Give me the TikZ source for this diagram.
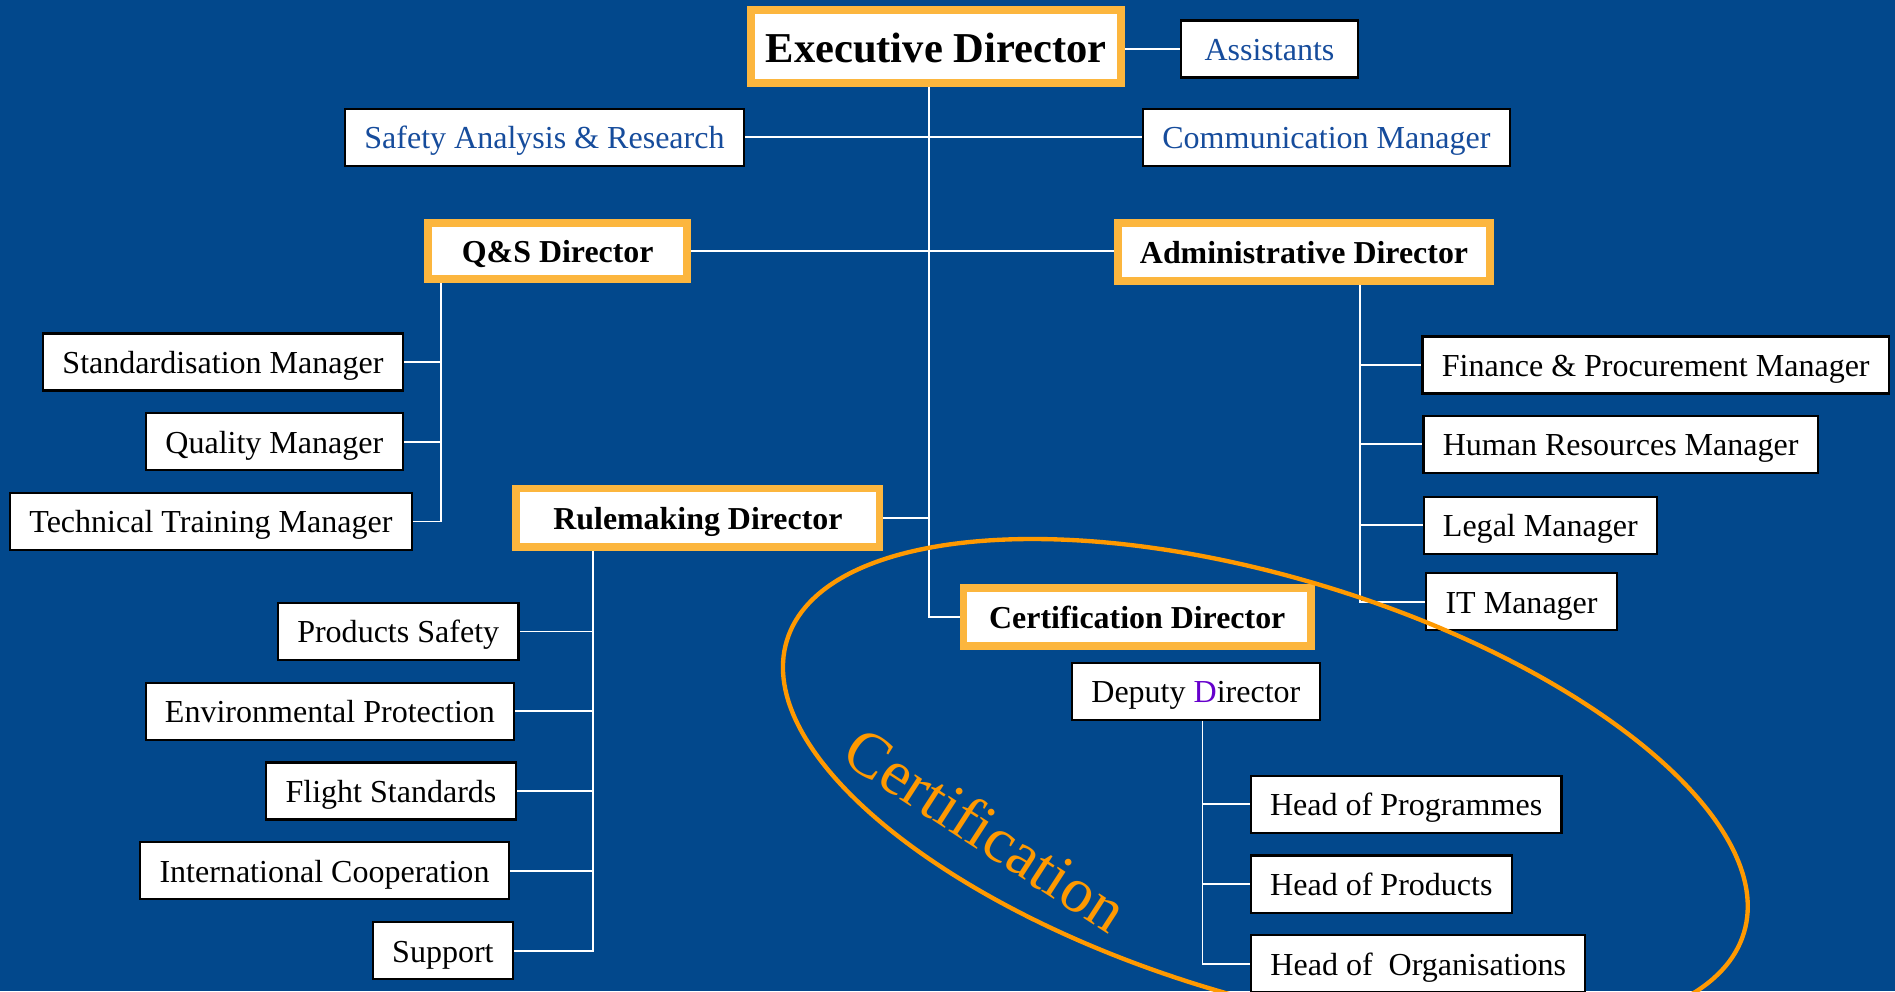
\documentclass[tikz,border=0pt]{standalone}
\usepackage{fontspec}
\setmainfont{Liberation Serif}

\definecolor{bgblue}{RGB}{2,72,140}
\definecolor{boxorange}{RGB}{252,182,62}
\definecolor{ringorange}{RGB}{255,153,0}
\definecolor{textblue}{RGB}{22,76,156}
\definecolor{dpurple}{RGB}{102,0,204}

\begin{document}
\begin{tikzpicture}[x=0.5pt, y=-0.5pt,
    mgr/.style={draw=black, fill=white, line width=0.9pt, inner xsep=8pt, inner ysep=1pt,
        minimum height=23.6pt, text height=11pt, text depth=1.5pt,
        font=\fontsize{13.25}{16}\selectfont},
    staff/.style={mgr, text=textblue},
    dir/.style={draw=boxorange, fill=white, line width=3.25pt, inner xsep=6pt, inner ysep=1pt,
        minimum height=24.25pt, text height=11pt, text depth=1.5pt,
        font=\fontsize{13.2}{16}\selectfont\bfseries},
    link/.style={draw=white, line width=0.8pt}]

    % 背景
    \useasboundingbox (0,0) rectangle (1568,820);
    \clip (0,0) rectangle (1568,820);
    \fill[bgblue] (0,0) rectangle (1568,820);

    % 縦線の位置
    \coordinate (trunk) at (769,0);
    \coordinate (qsbus) at (365,0);
    \coordinate (rmbus) at (491,0);
    \coordinate (adbus) at (1125,0);
    \coordinate (cebus) at (995,0);

    % 局長とスタッフ
    \node[dir, minimum width=150.25pt, minimum height=30.25pt, text height=14.5pt, text depth=1pt,
        font=\fontsize{17.6}{20}\selectfont\bfseries] (exec) at (774.5,38.5) {Executive Director};
    \node[staff, anchor=west, minimum width=73.5pt] (assist) at (976,40.5) {Assistants};
    \node[staff] (safety) at (450.5,113.5) {Safety Analysis \& Research};
    \node[staff] (comm) at (1097.5,113.5) {Communication Manager};

    % 各部長
    \node[dir, minimum width=107.25pt, minimum height=23.25pt] (qs) at (461.5,207.5) {Q\&S Director};
    \node[dir, minimum width=153.75pt] (admin) at (1079,208.5) {Administrative Director};
    \node[dir, minimum width=150.25pt] (rule) at (577.5,428.5) {Rulemaking Director};
    \node[dir, minimum width=143.75pt] (cert) at (941,510.5) {Certification Director};

    % Q&S部
    \node[mgr] (std) at (184.5,299.5) {Standardisation Manager};
    \node[mgr] (qual) at (227,365.5) {Quality Manager};
    \node[mgr] (tech) at (174.5,431.5) {Technical Training Manager};

    % 管理部
    \node[mgr] (fin) at (1370,302) {Finance \& Procurement Manager};
    \node[mgr] (hr) at (1341,367.5) {Human Resources Manager};
    \node[mgr] (legal) at (1274.5,434.5) {Legal Manager};
    \node[mgr] (it) at (1259,498) {IT Manager};

    % 規則制定部
    \node[mgr] (prod) at (329.5,522.5) {Products Safety};
    \node[mgr] (env) at (273,588.5) {Environmental Protection};
    \node[mgr] (flight) at (323.5,654.5) {Flight Standards};
    \node[mgr] (intl) at (268.5,720.5) {International Cooperation};
    \node[mgr] (support) at (366.5,786.5) {Support};

    % 認証部
    \node[mgr] (deputy) at (989.5,572) {Deputy {\color{dpurple}D}irector};
    \node[mgr] (hprog) at (1163.5,665.5) {Head of Programmes};
    \node[mgr] (hprod) at (1143,731.5) {Head of Products};
    \node[mgr] (horg) at (1173.5,797.5) {Head of~ Organisations};

    % 結線
    \draw[link] (exec.south -| trunk) |- (cert.west);
    \draw[link] (assist.west -| exec.east) -- (assist.west);
    \draw[link] (safety.east) -- (comm.west);
    \draw[link] (qs.east) -- (qs.east -| admin.west);
    \draw[link] (rule.east) -- (rule.east -| trunk);
    \foreach \n in {std,qual,tech} {
        \draw[link] (qs.south -| qsbus) |- (\n.east);
    }
    \foreach \n in {prod,env,flight,intl,support} {
        \draw[link] (rule.south -| rmbus) |- (\n.east);
    }
    \foreach \n in {fin,hr,legal,it} {
        \draw[link] (admin.south -| adbus) |- (\n.west);
    }
    \foreach \n in {hprog,hprod,horg} {
        \draw[link] (deputy.south -| cebus) |- (\n.west);
    }

    % 認証の楕円
    \draw[ringorange, line width=1.8pt, rotate around={-17:(1047,651)}]
        (1047,651) ellipse [x radius=207pt, y radius=86.5pt];
    \node[rotate=-33, text=ringorange, font=\fontsize{26.3}{30}\selectfont] (certlabel)
        at (816,686) {Certification};

\end{tikzpicture}
\end{document}
